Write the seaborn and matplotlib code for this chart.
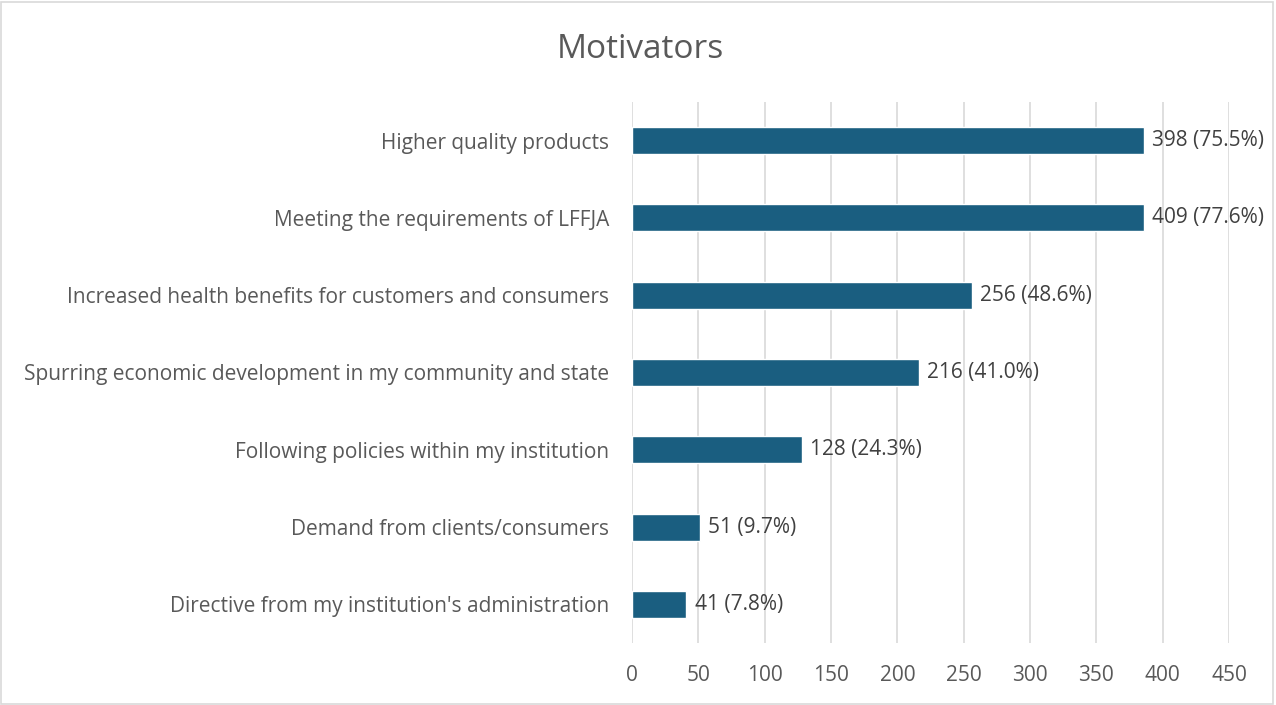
import matplotlib
matplotlib.use("Agg")
import matplotlib.pyplot as plt
import seaborn as sns
import pandas as pd
from matplotlib.patches import Rectangle

categories = [
    "Higher quality products",
    "Meeting the requirements of LFFJA",
    "Increased health benefits for customers and consumers",
    "Spurring economic development in my community and state",
    "Following policies within my institution",
    "Demand from clients/consumers",
    "Directive from my institution's administration",
]
# bar lengths as drawn in the picture
bar_values = [386, 386, 256, 216, 128, 51, 41]
# data label texts as printed
label_texts = ["398 (75.5%)", "409 (77.6%)", "256 (48.6%)", "216 (41.0%)",
               "128 (24.3%)", "51 (9.7%)", "41 (7.8%)"]
x_ticks = [0, 50, 100, 150, 200, 250, 300, 350, 400, 450]

sns.set_theme(style="white")
plt.rcParams['font.family'] = ['Open Sans', 'DejaVu Sans']

df = pd.DataFrame({"cat": categories, "val": bar_values})

fig = plt.figure(figsize=(12.76, 7.05), dpi=100)
ax = fig.add_axes([632/1276, 1-643/705, (1229-632)/1276, (643-102)/705])

sns.barplot(data=df, y="cat", x="val", order=categories, color="#1A5E80",
            orient="h", width=0.35, ax=ax, saturation=1)

ax.set_xlim(0, 450)
ax.set_xticks(x_ticks)
ax.xaxis.grid(True, color="#D9D9D9", linewidth=1.2)
ax.yaxis.grid(False)
ax.set_axisbelow(True)
for s in ax.spines.values():
    s.set_visible(False)
ax.set_xlabel("")
ax.set_ylabel("")
ax.tick_params(axis="x", length=0, pad=16, labelsize=15, labelcolor="#595959")
ax.tick_params(axis="y", length=0, pad=16.5, labelsize=15, labelcolor="#595959")

ax.bar_label(ax.containers[0], labels=label_texts, padding=6, fontsize=15,
             color="#404040")

fig.text(640/1276, 1-49/705, "Motivators", ha="center", va="center",
         fontsize=24, color="#595959")

fig.patches.append(Rectangle((0.001, 0.001), 0.997, 0.996, transform=fig.transFigure,
                             fill=False, edgecolor="#D9D9D9", linewidth=1.2))

fig.savefig("out.png", dpi=100)
